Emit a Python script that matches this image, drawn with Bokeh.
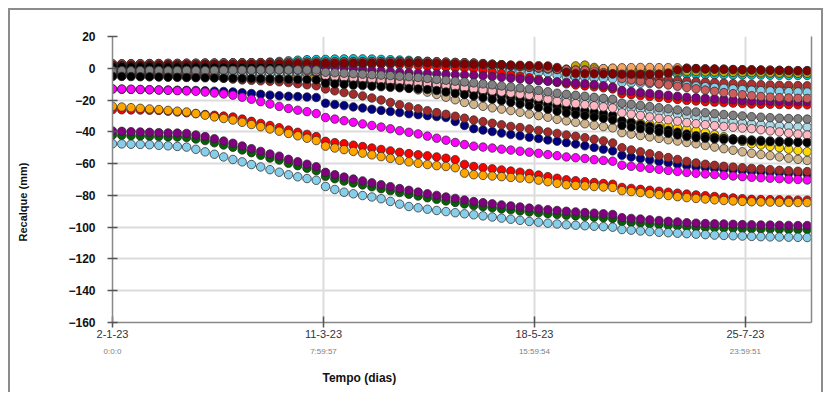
import math
from bokeh.plotting import figure
from bokeh.models import Range1d, FixedTicker, LinearAxis, Title, ColumnDataSource
from bokeh.embed import file_html
from bokeh.resources import INLINE

# sample days counted from 2-1-23 (every 3 days, 0..225)
DAYS = list(range(0, 226, 3))
TICK_DAYS = [0, 68.333, 136.667, 205.0]
TICK_DATES = ["2-1-23", "11-3-23", "18-5-23", "25-7-23"]
TICK_TIMES = ["0:0:0", "7:59:57", "15:59:54", "23:59:51"]
Y_TICKS = [-160, -140, -120, -100, -80, -60, -40, -20, 0, 20]

sky = [-47.5, -47.6, -47.8, -47.9, -48.1, -48.5, -48.8, -49.2, -49.6, -51.0, -52.6, -54.1, -55.8, -57.4, -58.9, -60.6, -62.1, -63.8, -65.4,
       -67.0, -68.3, -69.4, -70.5, -74.4, -76.3, -78.0, -79.0, -80.1, -81.0, -82.1, -83.8, -85.5, -87.0, -87.8, -88.7, -89.5, -90.2, -90.9,
       -91.6, -92.2, -92.9, -93.6, -94.3, -95.0, -95.7, -96.4, -96.9, -97.5, -98.0, -98.5, -98.8, -99.1, -99.4, -99.7, -100.0, -101.5, -101.9,
       -102.4, -102.8, -103.2, -103.5, -103.8, -104.1, -104.4, -104.7, -105.0, -105.2, -105.4, -105.6, -105.8, -106.0, -106.1, -106.2, -106.3, -106.4, -106.5]
purple = [-39.5, -39.7, -39.9, -40.1, -40.3, -40.5, -40.7, -40.8, -41.0, -42.0, -43.0, -44.4, -45.8, -47.2, -48.9, -50.6, -52.3, -54.0, -55.3,
          -57.3, -58.8, -60.4, -62.0, -65.5, -67.0, -68.5, -69.7, -70.9, -72.1, -73.3, -74.5, -75.7, -76.8, -77.9, -79.0, -80.0, -81.0, -81.9,
          -82.9, -83.9, -84.6, -85.3, -86.0, -86.6, -87.3, -88.0, -88.5, -89.0, -89.5, -90.0, -90.4, -90.8, -91.2, -91.6, -92.0, -94.0, -94.5,
          -94.9, -95.4, -95.8, -96.3, -96.7, -97.2, -97.5, -97.7, -97.9, -98.0, -98.2, -98.4, -98.5, -98.6, -98.7, -98.8, -98.9, -99.0, -99.0]
green = [-42.0, -42.2, -42.4, -42.6, -42.8, -43.0, -43.2, -43.3, -43.5, -44.5, -45.5, -46.9, -48.3, -49.7, -51.4, -53.1, -54.8, -56.5, -57.8,
         -59.8, -61.3, -62.9, -64.5, -68.0, -69.5, -71.0, -72.2, -73.4, -74.6, -75.8, -77.0, -78.2, -79.3, -80.4, -81.5, -82.5, -83.5, -84.4,
         -85.4, -86.4, -87.1, -87.8, -88.5, -89.1, -89.8, -90.5, -91.0, -91.5, -92.0, -92.5, -92.9, -93.3, -93.7, -94.1, -94.5, -96.5, -97.0,
         -97.4, -97.9, -98.3, -98.8, -99.2, -99.7, -100.0, -100.2, -100.4, -100.5, -100.7, -100.9, -101.0, -101.1, -101.2, -101.3, -101.4, -101.5, -101.5]
orange_low = [-24.0, -24.4, -24.8, -25.2, -25.6, -26.0, -26.5, -27.0, -27.5, -28.5, -29.5, -30.6, -31.6, -32.6, -34.0, -35.4, -36.8, -38.2, -39.6,
              -41.0, -42.5, -44.0, -45.5, -49.0, -50.2, -51.2, -52.3, -53.4, -54.5, -55.6, -56.7, -57.9, -58.9, -59.8, -60.6, -61.3, -61.8, -62.6,
              -66.0, -67.0, -67.4, -67.8, -68.2, -68.7, -69.1, -69.5, -70.4, -71.4, -72.4, -73.3, -73.7, -74.0, -74.4, -74.7, -75.0, -77.0, -77.6,
              -78.2, -78.9, -79.5, -80.1, -80.8, -81.4, -81.9, -82.3, -82.8, -83.2, -83.5, -83.8, -84.0, -84.1, -84.2, -84.3, -84.4, -84.5, -84.5]
red_low = [-26.0, -26.1, -26.2, -26.3, -26.4, -26.5, -27.0, -27.5, -28.0, -28.5, -29.1, -29.6, -30.1, -30.7, -32.0, -33.4, -34.7, -36.0, -37.4,
           -38.9, -40.3, -41.6, -43.0, -46.0, -46.8, -47.5, -48.4, -49.3, -50.2, -51.1, -52.0, -52.9, -53.7, -54.4, -55.1, -55.8, -56.6, -57.5,
           -60.5, -61.8, -62.6, -63.3, -64.0, -64.7, -65.4, -66.2, -67.2, -68.2, -69.2, -70.2, -70.8, -71.4, -71.9, -72.5, -73.0, -75.0, -75.6,
           -76.2, -76.8, -77.4, -78.0, -78.6, -79.2, -79.7, -80.2, -80.7, -81.2, -81.6, -82.1, -82.5, -82.6, -82.7, -82.8, -82.9, -83.0, -83.0]
navy = [-13.1, -13.2, -13.3, -13.4, -13.5, -13.6, -13.7, -13.8, -13.9, -14.0, -14.2, -14.4, -14.6, -14.9, -15.4, -15.9, -16.4, -16.9, -17.3,
        -17.6, -17.8, -18.1, -18.4, -22.0, -22.8, -23.5, -24.3, -25.0, -25.8, -26.5, -27.2, -27.9, -28.6, -29.2, -29.8, -30.4, -31.0, -33.5,
        -36.0, -38.0, -38.9, -39.8, -40.8, -41.7, -42.5, -43.4, -44.2, -45.1, -45.9, -46.8, -47.7, -48.8, -49.8, -50.9, -52.0, -54.8, -55.9,
        -56.8, -57.7, -58.6, -59.5, -60.4, -61.3, -62.1, -62.6, -63.1, -63.6, -64.0, -64.5, -65.0, -65.3, -65.5, -65.8, -66.0, -66.3, -66.5]
magenta = [-13.0, -13.1, -13.2, -13.3, -13.5, -13.7, -13.9, -14.1, -14.3, -14.5, -15.0, -15.6, -16.2, -16.9, -18.2, -19.5, -21.0, -22.5, -24.0,
           -25.3, -26.4, -27.3, -28.5, -31.0, -32.0, -33.0, -34.0, -35.0, -36.0, -37.0, -38.1, -39.3, -40.3, -41.3, -42.7, -44.0, -45.3, -46.7,
           -48.0, -49.0, -49.6, -50.2, -50.9, -51.5, -52.2, -52.8, -53.5, -54.3, -55.0, -55.8, -56.3, -56.8, -57.5, -58.0, -58.5, -61.0, -61.7,
           -62.3, -63.0, -63.6, -64.3, -64.9, -65.6, -66.1, -66.5, -66.9, -67.4, -67.8, -68.2, -68.6, -68.9, -69.2, -69.5, -69.8, -70.0, -70.3]
brown = [-4.0, -4.1, -4.2, -4.3, -4.4, -4.5, -4.6, -4.7, -4.8, -4.9, -5.0, -5.6, -6.2, -6.8, -7.3, -7.6, -7.9, -8.2, -8.5,
         -9.0, -9.7, -10.4, -11.0, -13.0, -14.2, -15.3, -16.3, -17.4, -18.7, -20.0, -21.5, -23.0, -24.3, -25.5, -26.7, -27.9, -29.0, -30.2,
         -31.4, -32.6, -33.6, -34.6, -35.6, -36.6, -37.3, -38.2, -39.1, -40.1, -41.0, -42.0, -42.8, -43.7, -44.7, -45.7, -47.0, -50.0, -51.4,
         -52.6, -53.8, -55.0, -56.2, -57.4, -58.6, -59.6, -60.4, -61.1, -61.7, -62.2, -62.6, -63.0, -63.4, -63.8, -64.2, -64.5, -64.8, -65.0]
gray = [-1.5, -1.5, -1.6, -1.5, -1.4, -1.5, -1.6, -1.5, -1.4, -1.5, -1.5, -1.4, -1.3, -1.3, -1.2, -1.2, -1.1, -1.1, -1.0,
        -1.0, -1.0, -1.0, -1.1, -2.5, -2.8, -3.1, -3.4, -3.7, -4.0, -4.3, -4.6, -5.0, -5.3, -5.8, -6.4, -7.0, -7.5, -8.1,
        -8.6, -9.2, -9.8, -10.4, -11.1, -11.7, -12.4, -13.0, -13.9, -14.8, -15.7, -16.4, -17.0, -17.6, -18.3, -18.9, -19.5, -22.0, -22.7,
        -23.4, -24.1, -24.8, -25.5, -26.2, -26.9, -27.5, -28.0, -28.6, -29.1, -29.6, -30.0, -30.5, -30.8, -31.1, -31.4, -31.6, -31.8, -32.0]
light_blue = [-3.5, -3.5, -3.6, -3.5, -3.4, -3.5, -3.6, -3.5, -3.4, -3.5, -3.5, -3.4, -3.3, -3.3, -3.2, -3.2, -3.1, -3.1, -3.0,
              -3.0, -3.0, -3.0, -3.1, -5.0, -5.3, -5.6, -5.9, -6.2, -6.5, -6.8, -7.1, -7.5, -7.8, -8.3, -8.9, -9.5, -10.0, -10.6,
              -11.1, -11.7, -12.3, -12.9, -13.6, -14.2, -14.9, -15.5, -16.4, -17.3, -18.2, -18.9, -19.5, -20.1, -20.8, -21.4, -22.0, -24.5, -25.2,
              -25.9, -26.7, -27.4, -28.2, -29.0, -29.9, -30.8, -31.6, -32.4, -33.1, -33.8, -34.4, -35.0, -35.5, -35.9, -36.3, -36.6, -36.8, -37.0]
pink = [-1.5, -1.5, -1.6, -1.5, -1.4, -1.5, -1.6, -1.5, -1.4, -1.5, -1.5, -1.4, -1.3, -1.3, -1.2, -1.2, -1.1, -1.1, -1.0,
        -1.2, -1.3, -1.5, -2.0, -4.6, -5.2, -5.7, -6.2, -6.6, -7.0, -7.5, -8.0, -8.4, -8.9, -9.4, -9.9, -10.4, -11.0, -11.6,
        -12.3, -12.9, -13.6, -14.3, -14.9, -15.6, -16.3, -17.0, -18.2, -19.4, -20.6, -21.5, -22.2, -22.9, -23.6, -24.3, -25.0, -28.0, -28.9,
        -29.7, -30.6, -31.5, -32.4, -33.3, -34.2, -34.9, -35.5, -36.1, -36.6, -37.1, -37.6, -38.0, -38.7, -39.4, -40.1, -40.8, -41.4, -42.0]
black_a = [1.0, 1.0, 0.9, 0.9, 0.9, 0.8, 0.8, 0.8, 0.7, 0.7, 0.7, 0.6, 0.6, 0.6, 0.5, 0.5, 0.5, 0.4, 0.4,
           -0.2, -0.8, -1.5, -2.5, -6.5, -7.3, -8.0, -8.4, -8.7, -9.0, -9.3, -9.6, -9.9, -10.2, -10.5, -10.9, -11.5, -12.3, -13.1,
           -13.8, -14.6, -15.5, -16.5, -17.5, -18.5, -19.5, -20.5, -21.5, -22.6, -23.6, -24.7, -25.6, -26.6, -27.5, -28.5, -29.5, -33.0, -34.2,
           -35.4, -36.6, -37.8, -39.0, -40.2, -41.4, -42.4, -43.0, -43.5, -44.0, -44.4, -44.8, -45.1, -45.4, -45.7, -45.9, -46.1, -46.3, -46.4]
black_b = [-5.0, -5.1, -5.2, -5.3, -5.4, -5.5, -5.6, -5.7, -5.8, -5.9, -6.0, -6.1, -6.2, -6.3, -6.4, -6.5, -6.6, -6.7, -6.8,
           -6.9, -7.0, -7.1, -7.3, -9.5, -9.9, -10.2, -10.6, -10.9, -11.3, -11.6, -12.0, -12.3, -12.7, -13.0, -13.4, -14.0, -14.9, -15.8,
           -16.6, -17.5, -18.5, -19.5, -20.5, -21.5, -22.5, -23.5, -24.7, -25.8, -27.0, -28.1, -29.0, -29.8, -30.7, -31.6, -32.5, -36.0, -37.0,
           -38.0, -39.0, -40.0, -41.0, -42.0, -43.0, -43.7, -44.1, -44.5, -44.9, -45.2, -45.5, -45.8, -46.0, -46.2, -46.4, -46.6, -46.7, -46.8]
tan = [-5.0, -5.0, -5.1, -5.1, -5.2, -5.3, -5.4, -5.5, -5.6, -5.6, -5.7, -5.8, -5.9, -6.0, -6.1, -6.2, -6.3, -6.4, -6.4,
       -6.5, -6.5, -6.8, -7.1, -7.4, -7.7, -8.0, -8.3, -8.6, -8.9, -9.6, -10.5, -11.4, -12.4, -13.6, -15.0, -16.5, -18.2, -19.8,
       -21.5, -22.7, -23.9, -24.9, -25.7, -26.6, -27.7, -28.8, -29.8, -30.8, -32.1, -33.1, -34.0, -34.9, -35.8, -36.7, -37.5, -40.5, -41.4,
       -42.3, -43.2, -44.1, -45.0, -45.8, -46.7, -47.5, -48.6, -49.6, -50.6, -51.6, -52.6, -53.5, -54.3, -55.0, -55.8, -56.6, -57.3, -58.0]
gold = [-3.0, -3.0, -3.1, -3.1, -3.2, -3.2, -3.3, -3.3, -3.4, -3.4, -3.5, -3.5, -3.6, -3.6, -3.7, -3.7, -3.8, -3.8, -3.9,
        -3.9, -4.0, -4.4, -4.7, -5.1, -5.4, -5.8, -6.1, -6.5, -6.8, -7.2, -7.5, -7.9, -8.3, -8.7, -9.6, -10.5, -11.4, -12.3,
        -13.2, -14.1, -15.0, -15.9, -16.8, -17.7, -18.8, -20.1, -21.5, -22.9, -24.3, -25.6, -27.0, -28.2, -29.4, -30.6, -31.8, -33.0, -33.7,
        -34.4, -35.1, -35.8, -36.5, -37.4, -38.3, -39.2, -40.4, -41.8, -43.1, -44.6, -46.0, -47.5, -48.3, -49.2, -50.0, -50.9, -51.7, -52.5]
teal = [0.0, 0.2, 0.3, 0.5, 0.6, 0.8, 0.9, 1.0, 1.6, 2.4, 3.0, 3.1, 3.2, 3.3, 3.3, 3.4, 3.5, 3.9, 4.3,
        4.7, 5.1, 5.4, 5.5, 5.6, 5.8, 5.9, 6.0, 5.9, 5.8, 5.6, 5.4, 5.2, 5.0, 4.8, 4.4, 4.1, 3.8, 3.4,
        3.0, 2.7, 2.3, 2.0, 1.6, 1.0, 0.4, -0.2, -0.7, -1.1, -1.3, -1.5, -1.7, -1.9, -2.1, -2.3, -2.5, -2.7, -2.9,
        -3.0, -3.2, -3.4, -3.5, -3.7, -3.8, -4.0, -4.0, -4.1, -4.1, -4.2, -4.2, -4.3, -4.3, -4.4, -4.4, -4.5, -4.5, -4.5]
orange_top = [0.5, 0.5, 0.5, 0.6, 0.6, 0.6, 0.7, 0.7, 0.7, 0.8, 0.8, 0.8, 0.9, 0.9, 0.9, 1.0, 1.0, 1.0, 1.1,
              1.1, 1.2, 1.5, 1.8, 2.1, 2.4, 2.6, 2.8, 3.0, 3.1, 3.2, 3.2, 3.2, 3.2, 3.1, 2.9, 2.6, 2.3, 2.0,
              1.7, 1.4, 1.1, 0.8, 0.5, 0.2, -0.1, -0.3, -0.5, -0.7, -0.9, -1.1, -1.3, -1.6, -2.0, -2.5, -3.0, -5.0, -5.6,
              -6.2, -6.8, -7.4, -8.0, -8.6, -9.2, -9.8, -10.3, -10.8, -11.2, -11.5, -11.8, -12.0, -12.2, -12.4, -12.6, -12.8, -12.9, -13.0]
brick = [1.5, 1.5, 1.6, 1.6, 1.7, 1.7, 1.8, 1.8, 1.9, 1.9, 2.0, 2.0, 2.1, 2.1, 2.2, 2.2, 2.3, 2.3, 2.4,
         2.4, 2.5, 2.5, 2.6, 2.6, 2.7, 2.7, 2.8, 2.8, 2.9, 2.9, 2.9, 3.0, 3.0, 3.0, 2.9, 2.7, 2.5, 2.4,
         2.2, 2.1, 1.9, 1.6, 1.2, 0.8, 0.4, 0.0, -0.3, -0.5, -0.7, -0.9, -1.0, -1.2, -1.4, -1.7, -2.0, -4.0, -4.6,
         -5.2, -5.8, -6.5, -7.2, -7.7, -8.1, -8.5, -8.8, -9.1, -9.4, -9.7, -9.9, -10.1, -10.3, -10.5, -10.7, -10.8, -10.9, -11.0]
sky_top = [1.8, 1.8, 1.9, 1.9, 2.0, 2.0, 2.1, 2.1, 2.2, 2.2, 2.3, 2.3, 2.4, 2.4, 2.5, 2.5, 2.6, 2.6, 2.7,
           2.7, 2.8, 2.8, 2.9, 2.9, 3.0, 3.0, 3.1, 3.1, 3.2, 3.2, 3.2, 3.3, 3.3, 3.3, 3.2, 3.0, 2.8, 2.7,
           2.5, 2.3, 1.8, 0.8, -0.4, -1.5, -2.2, -2.5, -2.7, -3.0, -4.5, -5.5, -5.8, -6.0, -6.2, -6.4, -6.6, -9.0, -9.2,
           -9.4, -9.6, -9.9, -10.1, -10.3, -10.7, -11.2, -11.6, -12.1, -12.6, -13.0, -13.4, -13.8, -14.1, -14.3, -14.5, -14.7, -14.9, -15.0]
red_top = [-1.5, -1.5, -1.4, -1.4, -1.3, -1.3, -1.2, -1.2, -1.1, -1.1, -1.0, -1.0, -1.0, -0.9, -0.9, -0.8, -0.8, -0.7, -0.7,
           -0.6, -0.5, -0.3, 0.0, 0.8, 1.5, 2.0, 2.3, 2.5, 2.6, 2.6, 2.5, 2.3, 2.0, 1.7, 1.3, 1.0, 0.7, 0.3,
           0.1, -0.3, -1.3, -2.3, -3.3, -4.1, -5.0, -6.0, -7.0, -8.0, -8.9, -9.8, -10.5, -11.1, -11.7, -12.3, -13.0, -16.0, -16.6,
           -17.2, -17.8, -18.4, -19.0, -19.6, -20.2, -20.6, -21.0, -21.3, -21.6, -21.9, -22.2, -22.5, -22.6, -22.7, -22.8, -22.9, -23.0, -23.0]
purple_top = [0.0, 0.0, 0.1, 0.0, 0.1, 0.1, 0.2, 0.1, 0.2, 0.2, 0.3, 0.2, 0.3, 0.3, 0.4, 0.3, 0.4, 0.4, 0.5,
              0.5, 0.5, 0.8, 1.0, 1.0, 0.6, 0.1, -0.4, -0.8, -1.3, -1.8, -2.2, -2.6, -2.9, -3.1, -3.3, -3.5, -3.8, -4.0,
              -4.2, -4.4, -4.7, -5.2, -5.7, -6.2, -6.7, -7.3, -7.8, -8.1, -8.5, -8.9, -9.3, -9.7, -10.2, -11.0, -11.8, -14.0, -14.6,
              -15.2, -15.8, -16.4, -17.0, -17.6, -18.2, -18.6, -18.9, -19.2, -19.5, -19.9, -20.2, -20.5, -20.6, -20.7, -20.8, -20.9, -21.0, -21.0]
olive = [2.6, 2.6, 2.7, 2.7, 2.8, 2.8, 2.9, 2.9, 3.0, 3.0, 3.1, 3.1, 3.2, 3.2, 3.3, 3.3, 3.4, 3.4, 3.5,
         3.5, 3.6, 3.6, 3.7, 3.7, 3.8, 3.8, 3.9, 3.9, 4.0, 4.0, 4.0, 4.1, 4.1, 4.1, 4.0, 3.8, 3.6, 3.5,
         3.3, 3.1, 2.8, 2.4, 2.0, 1.6, 1.1, 0.6, 0.1, -0.4, -0.8, -0.5, 1.5, 2.0, 0.5, -0.5, -0.5, -1.0, -1.2,
         -1.4, -1.5, -1.6, -1.7, -1.8, -2.0, -2.1, -2.3, -2.4, -2.5, -2.6, -2.7, -2.8, -2.9, -3.0, -3.1, -3.1, -3.2, -3.2]
sandy = [2.7, 2.7, 2.8, 2.8, 2.9, 2.9, 3.0, 3.0, 3.1, 3.1, 3.2, 3.2, 3.3, 3.3, 3.4, 3.4, 3.5, 3.5, 3.6,
         3.6, 3.7, 3.7, 3.8, 3.8, 3.9, 3.9, 4.0, 4.0, 4.1, 4.1, 4.1, 4.2, 4.2, 4.2, 4.1, 3.9, 3.7, 3.6,
         3.4, 3.2, 2.9, 2.5, 2.1, 1.7, 1.2, 0.7, 0.2, -0.3, -0.7, -1.0, -1.2, -1.0, -0.6, -0.2, 0.1, 0.3, 0.4,
         0.5, 0.5, 0.4, 0.4, 0.3, 0.0, -0.2, -0.4, -0.5, -0.6, -0.8, -0.9, -1.0, -1.1, -1.2, -1.3, -1.4, -1.5, -1.5]
salmon = [2.8, 2.8, 2.9, 2.9, 3.0, 3.0, 3.1, 3.1, 3.2, 3.2, 3.3, 3.3, 3.4, 3.4, 3.5, 3.5, 3.6, 3.6, 3.7,
          3.7, 3.8, 3.8, 3.9, 3.9, 4.0, 4.0, 4.1, 4.1, 4.2, 4.2, 4.2, 4.3, 4.3, 4.3, 4.2, 4.0, 3.8, 3.7,
          3.5, 3.3, 3.0, 2.6, 2.2, 1.8, 1.3, 0.8, 0.3, -0.2, -0.6, -0.9, -1.1, -1.3, -1.8, -2.6, -3.4, -6.5, -7.3,
          -8.1, -8.9, -9.7, -10.5, -11.3, -12.1, -12.9, -13.7, -14.5, -15.3, -16.0, -16.7, -17.3, -17.8, -18.2, -18.5, -18.7, -18.9, -19.0]
maroon = [2.0, 2.0, 2.1, 2.1, 2.2, 2.2, 2.3, 2.3, 2.4, 2.4, 2.5, 2.5, 2.6, 2.6, 2.7, 2.7, 2.8, 2.8, 2.9,
          2.9, 3.0, 3.0, 3.1, 3.1, 3.2, 3.2, 3.3, 3.3, 3.4, 3.4, 3.4, 3.5, 3.5, 3.5, 3.4, 3.2, 3.0, 2.9,
          2.7, 2.6, 2.5, 2.3, 2.2, 2.0, 1.9, 1.7, 1.6, 1.5, 0.5, -2.5, -3.3, -3.5, -3.5, -3.6, -3.6, -3.7, -3.7,
          -3.7, -3.7, -3.6, -3.0, -1.0, 0.0, -0.2, -0.4, -0.5, -0.6, -0.8, -0.9, -1.0, -1.1, -1.2, -1.3, -1.4, -1.5, -1.5]

# drawing order: first drawn ends up underneath
SERIES = [
    (green, "#006400"), (purple, "#800080"), (sky, "#87ceeb"), (red_low, "#ff0000"),
    (orange_low, "#ffa500"), (navy, "#000080"), (magenta, "#ff00ff"), (tan, "#d2b48c"),
    (gold, "#ffd700"), (light_blue, "#add8e6"), (brown, "#a52a2a"), (teal, "#00c8d0"),
    (orange_top, "#ffa500"), (brick, "#b03030"), (sky_top, "#87ceeb"), (red_top, "#ff0000"),
    (purple_top, "#800080"), (olive, "#c0a800"), (sandy, "#f4a460"), (salmon, "#cd5c5c"),
    (maroon, "#800000"), (black_a, "#000000"), (pink, "#ffb6c1"), (gray, "#808080"),
    (black_b, "#000000"),
]

FONT = "Liberation Sans"

p = figure(width=815, height=384,
           x_range=Range1d(0, 226.4), y_range=Range1d(-160, 20),
           output_backend="svg", toolbar_location=None,
           min_border_left=102, min_border_right=14, min_border_top=26, min_border_bottom=71,
           background_fill_color="white", border_fill_color="white")
p.outline_line_color = None
p.styles = {"margin-left": "8px", "margin-top": "8px",
            "border-left": "2px solid #8c8c8c", "border-top": "2px solid #8c8c8c",
            "border-right": "2px solid #8c8c8c"}

# grids
p.xgrid.ticker = FixedTicker(ticks=TICK_DAYS)
p.ygrid.ticker = FixedTicker(ticks=Y_TICKS)
for g in (p.xgrid[0], p.ygrid[0]):
    g.grid_line_color = "#dcdcdc"
    g.grid_line_width = 2

# y axis
ya = p.yaxis[0]
ya.ticker = FixedTicker(ticks=Y_TICKS)
ya.major_label_text_font = FONT
ya.major_label_text_font_style = "bold"
ya.major_label_text_font_size = "12px"
ya.major_label_text_color = "#111111"
ya.major_label_standoff = 12
ya.axis_line_color = "#888888"
ya.axis_line_width = 1.5
ya.major_tick_line_color = "#555555"
ya.major_tick_line_width = 1.5
ya.major_tick_in = 5
ya.major_tick_out = 5
ya.minor_tick_line_color = None
# transparent spacer label: pushes the axis title further to the left
ya.axis_label = "|"
ya.axis_label_text_alpha = 0
ya.axis_label_text_font_size = "12px"
ya.axis_label_standoff = 13

# x axis: dates
xa = p.xaxis[0]
xa.ticker = FixedTicker(ticks=TICK_DAYS)
xa.major_label_overrides = {t: s for t, s in zip(TICK_DAYS, TICK_DATES)}
xa.major_label_text_font = FONT
xa.major_label_text_font_size = "11px"
xa.major_label_text_color = "#333340"
xa.major_label_standoff = 2
xa.axis_line_color = "#888888"
xa.axis_line_width = 1.5
xa.major_tick_line_color = "#555555"
xa.major_tick_line_width = 1.5
xa.major_tick_in = 6
xa.major_tick_out = 5
xa.minor_tick_line_color = None

# second row of x labels: times
xa2 = LinearAxis(ticker=FixedTicker(ticks=TICK_DAYS),
                 major_label_overrides={t: s for t, s in zip(TICK_DAYS, TICK_TIMES)},
                 major_label_text_font=FONT, major_label_text_font_size="8px",
                 major_label_text_color="#808080", major_label_standoff=6,
                 axis_line_color=None, major_tick_line_color=None, minor_tick_line_color=None,
                 major_tick_in=0, major_tick_out=0)
p.add_layout(xa2, "below")

# right frame line
ra = LinearAxis(ticker=FixedTicker(ticks=[]), major_label_text_font_size="0px",
                axis_line_color="#888888", axis_line_width=1.5,
                major_tick_line_color=None, minor_tick_line_color=None,
                major_tick_in=0, major_tick_out=0, major_label_standoff=0)
p.add_layout(ra, "right")

for vals, col in SERIES:
    src = ColumnDataSource(dict(x=DAYS[:len(vals)], y=vals[:len(DAYS)]))
    p.scatter("x", "y", source=src, marker="circle", size=8.5,
              fill_color=col, line_color="#2a2a2a", line_alpha=0.75, line_width=1)

p.add_layout(Title(text="Tempo (dias)", align="left", offset=210, standoff=20,
                   text_font=FONT, text_font_size="12px", text_font_style="bold",
                   text_color="#111111"), "below")
p.add_layout(Title(text="Recalque (mm)", align="left", offset=81, standoff=10,
                   vertical_align="top",
                   text_font=FONT, text_font_size="11px", text_font_style="bold",
                   text_color="#111111"), "left")

open("out.html", "w").write(file_html(p, INLINE))
